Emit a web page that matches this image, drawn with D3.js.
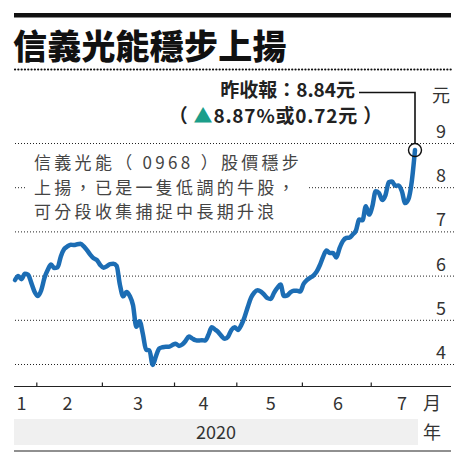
<!DOCTYPE html>
<html>
<head>
<meta charset="utf-8">
<script src="https://cdn.jsdelivr.net/npm/d3@7"></script>
<style>
  body { margin: 0; background: #fff; }
  svg { display: block; font-family: "Noto Sans CJK TC", "Noto Sans", sans-serif; }
</style>
</head>
<body>
<svg width="463" height="465"></svg>
<script>
// daily closes (trading days, late Jan to Jul 2020)
var closes = [
  5.90, 5.99, 5.92, 6.04, 6.02, 5.83, 5.63,
  5.54, 5.67, 5.95, 6.13, 6.25, 6.17, 6.19, 6.44, 6.60, 6.66, 6.70, 6.69, 6.71, 6.72, 6.66, 6.57, 6.47, 6.39, 6.35, 6.24,
  6.18, 6.21, 6.26, 6.27, 6.22, 5.79, 5.53, 5.63, 5.54, 5.33, 4.84, 4.97, 4.68, 4.32, 4.31, 3.98, 4.18, 4.35, 4.38, 4.39, 4.39, 4.43,
  4.46, 4.41, 4.44, 4.52, 4.62, 4.58, 4.54, 4.53, 4.54, 4.53, 4.66, 4.83, 4.78, 4.72, 4.63, 4.57, 4.62, 4.77, 4.83,
  4.77, 4.88, 5.06, 5.29, 5.50, 5.62, 5.67, 5.64, 5.57, 5.49, 5.47, 5.61, 5.72, 5.80, 5.54, 5.55, 5.62, 5.66, 5.66, 5.64,
  5.81, 5.90, 5.95, 6.00, 6.09, 6.24, 6.43, 6.57, 6.51, 6.51, 6.41, 6.62, 6.78, 6.85, 6.86, 6.93, 7.02, 7.27, 7.25, 7.57, 7.38,
  7.57, 7.91, 7.87, 7.71, 7.82, 8.11, 8.13, 8.03, 8.04, 7.91, 7.64, 7.73, 8.12, 8.84
];

var yTicks = [4, 5, 6, 7, 8, 9];
var monthLabels = ["1", "2", "3", "4", "5", "6", "7"];
var monthLabelPos = [2, 16, 37.5, 57.5, 78, 98.5, 118];   // trading-day index
var monthBreaks = [6.5, 26.5, 48.5, 67.5, 87.5, 108.5];    // between months
var yearLabel = "2020";

var title = "信義光能穩步上揚";
var note = ["信義光能（ 0968 ）股價穩步", "上揚，已是一隻低調的牛股，", "可分段收集捕捉中長期升浪"];
var lastClose = 8.84;

var svg = d3.select("svg");

var x = d3.scaleLinear().domain([0, closes.length - 1]).range([15, 415]);
var y = d3.scaleLinear().domain([4, 9]).range([364, 143]);

// heading
svg.append("rect").attr("x", 14).attr("y", 13).attr("width", 437).attr("height", 4.5).attr("fill", "#111");
svg.append("text")
  .attr("x", 13).attr("y", 59)
  .attr("font-size", 34).attr("font-weight", 900).attr("fill", "#111")
  .attr("letter-spacing", 0.2)
  .text(title);
svg.append("line")
  .attr("x1", 15).attr("x2", 451).attr("y1", 69.5).attr("y2", 69.5)
  .attr("stroke", "#111").attr("stroke-width", 2.2)
  .attr("stroke-dasharray", "0.1 3.2").attr("stroke-linecap", "round");

// dotted grid
svg.append("g").selectAll("line")
  .data(yTicks)
  .enter()
  .append("line")
  .attr("x1", 15).attr("x2", 454)
  .attr("y1", function (d) { return y(d) + 0.5; })
  .attr("y2", function (d) { return y(d) + 0.5; })
  .attr("stroke", "#222").attr("stroke-width", 1)
  .attr("stroke-dasharray", "1 2");

// y labels above their grid lines
svg.append("g").selectAll("text")
  .data(yTicks)
  .enter()
  .append("text")
  .attr("x", 441).attr("y", function (d) { return y(d) - 5; })
  .attr("text-anchor", "middle")
  .attr("font-size", 18).attr("fill", "#333")
  .text(function (d) { return d; });
svg.append("text").attr("x", 441).attr("y", 102).attr("text-anchor", "middle")
  .attr("font-size", 18).attr("fill", "#333").text("元");

// note box (white background hides the grid)
svg.append("rect").attr("x", 27).attr("y", 149).attr("width", 281).attr("height", 74).attr("fill", "#fff");
svg.append("g").selectAll("text")
  .data(note)
  .enter()
  .append("text")
  .attr("x", 34)
  .attr("y", function (d, i) { return 169 + i * 24.5; })
  .attr("font-size", 17).attr("fill", "#444")
  .attr("letter-spacing", 3.3)
  .text(function (d) { return d; });

// price line
var line = d3.line()
  .x(function (d, i) { return x(i); })
  .y(function (d) { return y(d); })
  .curve(d3.curveMonotoneX);

svg.append("path")
  .datum(closes)
  .attr("d", line)
  .attr("fill", "none")
  .attr("stroke", "#1c6db4")
  .attr("stroke-width", 4.5)
  .attr("stroke-linejoin", "round")
  .attr("stroke-linecap", "round");

// last close marker + leader
var lx = x(closes.length - 1), ly = y(lastClose);
svg.append("circle").attr("cx", lx).attr("cy", ly).attr("r", 6.5)
  .attr("fill", "none").attr("stroke", "#111").attr("stroke-width", 1.4);
svg.append("path")
  .attr("d", "M359," + 92.5 + "H" + lx + "V" + (ly - 6.5))
  .attr("fill", "none").attr("stroke", "#111").attr("stroke-width", 1.6);

svg.append("text")
  .attr("x", 355).attr("y", 96.5)
  .attr("text-anchor", "end")
  .attr("font-size", 19).attr("font-weight", "bold").attr("fill", "#222")
  .text("昨收報：" + lastClose + "元");
var sub = svg.append("text")
  .attr("x", 383).attr("y", 122.5)
  .attr("text-anchor", "end")
  .attr("font-size", 19).attr("font-weight", "bold").attr("fill", "#222")
  .attr("letter-spacing", 0.8);
sub.append("tspan").text("（ ");
sub.append("tspan").attr("fill", "#1b9e8a").text("▲");
sub.append("tspan").text("8.87%或0.72元 ）");

// x axis
svg.append("line").attr("x1", 14).attr("x2", 451).attr("y1", 386.5).attr("y2", 386.5)
  .attr("stroke", "#222").attr("stroke-width", 1.2);

var xAxis = d3.axisTop(x).tickValues(monthBreaks).tickSize(4).tickFormat("");
var gx = svg.append("g").attr("transform", "translate(0,386.5)").call(xAxis);
gx.select(".domain").remove();
gx.selectAll(".tick line").attr("stroke", "#222").attr("stroke-width", 1.2);

svg.append("g").selectAll("text")
  .data(monthLabels)
  .enter()
  .append("text")
  .attr("x", function (d, i) { return x(monthLabelPos[i]); })
  .attr("y", 410)
  .attr("text-anchor", "middle")
  .attr("font-size", 18).attr("fill", "#333")
  .text(function (d) { return d; });
svg.append("text").attr("x", 432).attr("y", 410).attr("text-anchor", "middle")
  .attr("font-size", 18).attr("fill", "#333").text("月");

svg.append("rect").attr("x", 14).attr("y", 419).attr("width", 404).attr("height", 26).attr("fill", "#f0f0f0");
svg.append("text").attr("x", 216).attr("y", 439).attr("text-anchor", "middle")
  .attr("font-size", 18).attr("fill", "#333").text(yearLabel);
svg.append("text").attr("x", 432).attr("y", 439).attr("text-anchor", "middle")
  .attr("font-size", 18).attr("fill", "#333").text("年");
svg.append("line").attr("x1", 14).attr("x2", 451).attr("y1", 451).attr("y2", 451)
  .attr("stroke", "#222").attr("stroke-width", 1.2);
</script>
</body>
</html>
